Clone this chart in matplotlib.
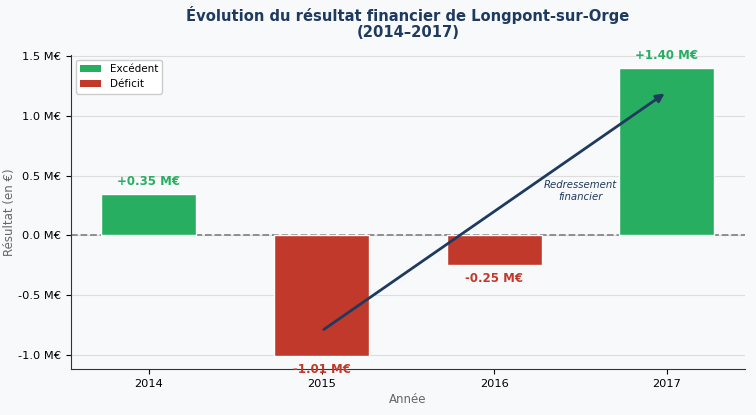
import matplotlib
matplotlib.use("Agg")
import matplotlib.pyplot as plt
from matplotlib.patches import Patch

years = ["2014", "2015", "2016", "2017"]
results = [0.35, -1.01, -0.25, 1.40]
labels = ["+0.35 M€", "-1.01 M€", "-0.25 M€", "+1.40 M€"]
yticks = [-1.0, -0.5, 0.0, 0.5, 1.0, 1.5]
ytick_labels = ["-1.0 M€", "-0.5 M€", "0.0 M€", "0.5 M€", "1.0 M€", "1.5 M€"]

GREEN = "#27ae60"
RED = "#c0392b"
NAVY = "#1f3a5f"
BG = "#f8f9fa"

fig, ax = plt.subplots(figsize=(7.56, 4.15), dpi=100)
fig.patch.set_facecolor(BG)
ax.set_facecolor(BG)

x = list(range(len(years)))
colors = [GREEN if v >= 0 else RED for v in results]
ax.axhline(0, color="#888888", linestyle="--", linewidth=1.3, zorder=1)
ax.bar(x, results, width=0.55, color=colors, edgecolor="white", linewidth=1, zorder=2)

for xi, v, lab, c in zip(x, results, labels, colors):
    off = 0.1 if v >= 0 else -0.11
    ax.text(xi, v + off, lab, ha="center", va="center", color=c,
            fontsize=8.5, fontweight="bold", zorder=4)

ax.annotate("", xy=(3, 1.2), xytext=(1, -0.8),
            arrowprops=dict(arrowstyle="-|>", color=NAVY, lw=2, mutation_scale=12),
            zorder=5)
ax.text(2.5, 0.37, "Redressement\nfinancier", ha="center", va="center",
        fontsize=7.3, style="italic", color=NAVY, zorder=5)

ax.set_xticks(x)
ax.set_xticklabels(years, fontsize=8.2)
ax.set_yticks(yticks)
ax.set_yticklabels(ytick_labels, fontsize=8.2)
ax.set_xlim(-0.45, 3.45)
ax.set_ylim(-1.12, 1.51)
ax.yaxis.grid(True, color="#dddddd", linewidth=0.8, zorder=0)
ax.set_axisbelow(True)
for s in ["top", "right"]:
    ax.spines[s].set_visible(False)
for s in ["left", "bottom"]:
    ax.spines[s].set_color("#333333")

ax.set_xlabel("Année", fontsize=8.5, color="#666666", labelpad=3)
ax.set_ylabel("Résultat (en €)", fontsize=8.5, color="#666666", labelpad=1.5)
ax.set_title("Évolution du résultat financier de Longpont-sur-Orge\n(2014–2017)",
             fontsize=10.6, fontweight="bold", color=NAVY, pad=12.5, linespacing=1.1)

handles = [Patch(facecolor=GREEN, label="Excédent"), Patch(facecolor=RED, label="Déficit")]
ax.legend(handles=handles, loc="upper left", fontsize=7.5, framealpha=1, facecolor="white")

fig.subplots_adjust(left=0.094, right=0.985, top=0.868, bottom=0.11)
fig.savefig("out.png", dpi=100, facecolor=BG)
